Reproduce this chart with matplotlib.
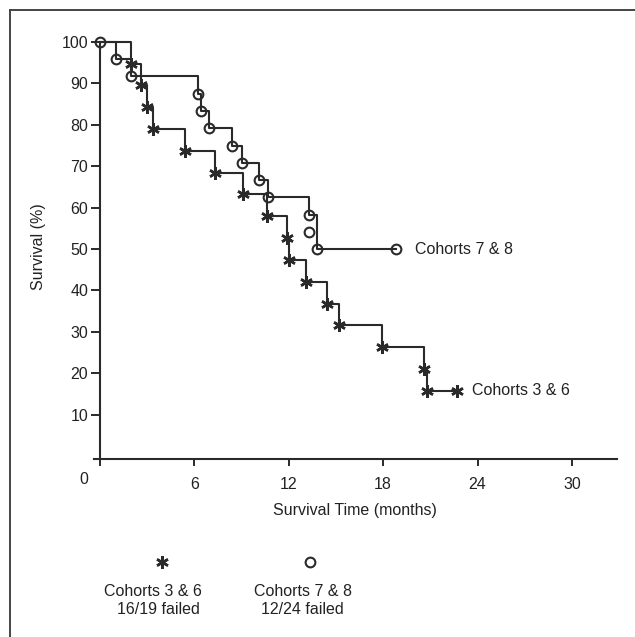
import numpy as np
import matplotlib.pyplot as plt
from matplotlib.lines import Line2D

plt.rcParams['font.family'] = ['Liberation Sans', 'DejaVu Sans']

# Cohorts 3 & 6: time of each failure (months) and survival after it (%)
t36 = [2.0, 2.6, 3.0, 3.4, 5.4, 7.3, 9.1, 10.6, 11.9, 12.0, 13.1, 14.45, 15.2, 17.95, 20.6, 20.8]
s36 = [94.7, 89.5, 84.2, 78.9, 73.7, 68.4, 63.2, 57.9, 52.6, 47.4, 42.1, 36.8, 31.6, 26.3, 21.1, 15.8]
cens36 = (22.7, 15.8)

# Cohorts 7 & 8
t78 = [1.0, 2.0, 6.2, 6.4, 6.9, 8.4, 9.0, 10.1, 10.7, 13.3, 13.8]
s78 = [95.8, 91.7, 87.5, 83.3, 79.2, 75.0, 70.8, 66.7, 62.5, 58.3, 50.0]
extra78 = (13.3, 54.2)   # circle drawn off the line
cens78 = (18.8, 50.0)

xticks = [0, 6, 12, 18, 24, 30]
yticks = [10, 20, 30, 40, 50, 60, 70, 80, 90, 100]

ink = '#2a2a2a'
txt = '#222222'
fs = 11.5

fig = plt.figure(figsize=(6.35, 6.37), dpi=100)
W, H = 635, 637
ax = fig.add_axes([93.7 / W, 1 - 459 / H, (617.5 - 93.7) / W, 417 / H])
ax.set_xlim(-0.4, 32.9)
ax.set_ylim(-0.7, 100)

def km(ts, ss, end):
    x = [0] + list(ts) + [end[0]]
    y = [100] + list(ss) + [end[1]]
    return x, y

x, y = km(t36, s36, cens36)
ax.step(x, y, where='post', color=ink, lw=1.5, clip_on=False)
ax.plot(t36 + [cens36[0]], s36 + [cens36[1]], ls='none', marker=(6, 2, 0),
        ms=9, mew=1.8, color=ink, clip_on=False)

x, y = km(t78, s78, cens78)
ax.step(x, y, where='post', color=ink, lw=1.5, clip_on=False)
ax.plot([0] + t78 + [extra78[0], cens78[0]], [100] + s78 + [extra78[1], cens78[1]],
        ls='none', marker='o', ms=7, mew=1.5, mfc='none', mec=ink, clip_on=False)

ax.text(20.0, 50.0, 'Cohorts 7 & 8', fontsize=fs, color=txt, va='center')
ax.text(23.65, 15.8, 'Cohorts 3 & 6', fontsize=fs, color=txt, va='center')

for s in ['top', 'right']:
    ax.spines[s].set_visible(False)
ax.spines['left'].set_position(('data', 0))
ax.spines['left'].set_bounds(-0.7, 100)
for s in ['left', 'bottom']:
    ax.spines[s].set_color(ink)
    ax.spines[s].set_linewidth(1.5)

ax.set_yticks(yticks)
ax.set_yticklabels([str(v) for v in yticks])
ax.set_xticks(xticks)
ax.set_xticklabels([''] + [str(v) for v in xticks[1:]])
ax.tick_params(axis='y', direction='out', length=6.5, width=1.4, colors=ink,
               labelcolor=txt, labelsize=fs, pad=2)
ax.tick_params(axis='x', direction='out', length=5, width=1.4, colors=ink,
               labelcolor=txt, labelsize=fs, pad=8)

fig.text(84 / W, 1 - 479 / H, '0', fontsize=fs, color=txt, ha='center', va='center')
fig.text(38 / W, 1 - 247 / H, 'Survival (%)', fontsize=fs, color=txt,
         rotation=90, ha='center', va='center')
fig.text(355 / W, 1 - 511 / H, 'Survival Time (months)', fontsize=fs, color=txt,
         ha='center', va='center')

# legend below the chart
fig.add_artist(Line2D([162 / W], [1 - 562 / H], marker=(6, 2, 0), ms=9, mew=1.8, color=ink))
fig.add_artist(Line2D([310 / W], [1 - 562 / H], marker='o', ms=7, mew=1.5,
                      mfc='none', mec=ink))
fig.text(153 / W, 1 - 591 / H, 'Cohorts 3 & 6', fontsize=fs, color=txt, ha='center', va='center')
fig.text(158 / W, 1 - 609 / H, '16/19 failed', fontsize=fs, color=txt, ha='center', va='center')
fig.text(303 / W, 1 - 591 / H, 'Cohorts 7 & 8', fontsize=fs, color=txt, ha='center', va='center')
fig.text(302 / W, 1 - 609 / H, '12/24 failed', fontsize=fs, color=txt, ha='center', va='center')

# frame lines at top and left edge
fig.add_artist(Line2D([10 / W, 1], [1 - 10 / H, 1 - 10 / H], color='#444444', lw=1.4))
fig.add_artist(Line2D([10 / W, 10 / W], [0, 1 - 10 / H], color='#444444', lw=1.4))

fig.savefig('out.png', dpi=100)
